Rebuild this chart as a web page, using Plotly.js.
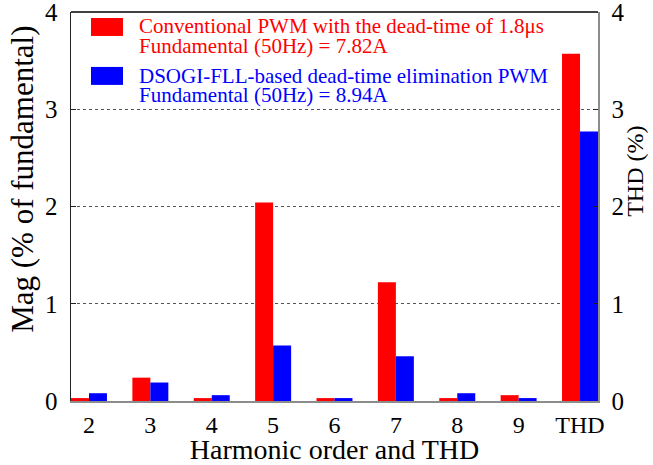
<!DOCTYPE html>
<html>
<head>
<meta charset="utf-8">
<script src="https://cdn.plot.ly/plotly-3.0.1.min.js"></script>
<style>html,body{margin:0;padding:0;background:#fff;}#chart{width:653px;height:465px;}</style>
</head>
<body>
<div id="chart"></div>
<script>
const categories = ['2', '3', '4', '5', '6', '7', '8', '9', 'THD'];
const conventional = [0.03, 0.24, 0.03, 2.04, 0.03, 1.22, 0.03, 0.06, 3.57];
const dsogi = [0.08, 0.19, 0.06, 0.57, 0.03, 0.46, 0.08, 0.03, 2.77];
const yTicks = [0, 1, 2, 3, 4];
const legendLines = [
  'Conventional PWM with the dead-time of 1.8\u03bcs',
  'Fundamental (50Hz) = 7.82A',
  'DSOGI-FLL-based dead-time elimination PWM',
  'Fundamental (50Hz) = 8.94A'
];
const xTitle = 'Harmonic order and THD';
const yTitle = 'Mag (% of fundamental)';
const y2Title = 'THD (%)';
const RED = '#ff0000', BLUE = '#0000ff';
const FONT = 'Times New Roman';

// plot area in pixels
const L = 71, R = 598, T = 12, B = 401.5, W = 653, H = 465;
const px = x => (x - L) / (R - L);
const py = y => (B - y) / (B - T);

const traces = [
  {type: 'bar', x: categories, y: conventional, name: legendLines[0],
   marker: {color: RED, line: {width: 0}}},
  {type: 'bar', x: categories, y: dsogi, name: legendLines[2],
   marker: {color: BLUE, line: {width: 0}}},
  {type: 'scatter', mode: 'markers', x: [], y: [], yaxis: 'y2', showlegend: false, hoverinfo: 'skip'}
];

const annFont = (c, s) => ({family: FONT, size: s, color: c});
const annotations = [
  {text: legendLines[0], y: py(26), c: RED},
  {text: legendLines[1], y: py(46), c: RED},
  {text: legendLines[2], y: py(76), c: BLUE},
  {text: legendLines[3], y: py(95), c: BLUE}
].map(a => ({xref: 'paper', yref: 'paper', x: px(138), y: a.y, xanchor: 'left', yanchor: 'middle',
  text: a.text, showarrow: false, font: annFont(a.c, 21), borderpad: 0}));

// axis titles placed as in the reference (shifted above plot centre)
annotations.push({xref: 'paper', yref: 'paper', x: px(23), y: py(180), xanchor: 'center', yanchor: 'middle',
  text: yTitle, textangle: -90, showarrow: false, font: annFont('#000', 31), borderpad: 0});
annotations.push({xref: 'paper', yref: 'paper', x: px(635), y: py(172), xanchor: 'center', yanchor: 'middle',
  text: y2Title, textangle: -90, showarrow: false, font: annFont('#000', 24), borderpad: 0});

const shapes = [
  {type: 'rect', xref: 'paper', yref: 'paper', x0: px(91), x1: px(123), y0: py(36), y1: py(18),
   fillcolor: RED, line: {width: 0}},
  {type: 'rect', xref: 'paper', yref: 'paper', x0: px(91), x1: px(123), y0: py(85), y1: py(67),
   fillcolor: BLUE, line: {width: 0}},
  {type: 'line', xref: 'paper', yref: 'paper', x0: 0, x1: 1, y0: 1, y1: 1,
   line: {color: '#000', width: 1.5}}
];

const layout = {
  width: W, height: H,
  margin: {l: L, r: W - R, t: T, b: H - B, pad: 0},
  paper_bgcolor: '#fff', plot_bgcolor: '#fff',
  showlegend: false,
  barmode: 'group', bargap: 0.414, bargroupgap: 0,
  font: {family: FONT, color: '#000', size: 24},
  xaxis: {
    type: 'category', categoryorder: 'array', categoryarray: categories,
    range: [-0.293, 8.293], showgrid: false, zeroline: false,
    showline: true, linecolor: '#8c8c8c', linewidth: 2, ticks: '',
    tickfont: {family: FONT, size: 24, color: '#000'},
    ticklabelstandoff: 1,
    title: {text: xTitle, font: {family: FONT, size: 28, color: '#000'}, standoff: 6}
  },
  yaxis: {
    range: [0, 4], tickvals: yTicks, ticktext: yTicks.map(String),
    showgrid: true, gridcolor: '#555', griddash: 'dot', gridwidth: 1,
    zeroline: false, showline: true, linecolor: '#222', linewidth: 1.5,
    ticks: 'inside', ticklen: 5, tickcolor: '#222',
    ticklabelstandoff: 7, ticklabeloverflow: 'allow',
    tickfont: {family: FONT, size: 25, color: '#000'}
  },
  yaxis2: {
    overlaying: 'y', side: 'right', anchor: 'x',
    range: [0, 4], tickvals: yTicks, ticktext: yTicks.map(String),
    showgrid: false, zeroline: false, showline: true, linecolor: '#8c8c8c', linewidth: 1.5,
    ticks: 'inside', ticklen: 5, tickcolor: '#222',
    ticklabelstandoff: 7, ticklabeloverflow: 'allow',
    tickfont: {family: FONT, size: 25, color: '#000'}
  },
  annotations: annotations,
  shapes: shapes
};

Plotly.newPlot('chart', traces, layout, {displayModeBar: false, staticPlot: true});
</script>
</body>
</html>
